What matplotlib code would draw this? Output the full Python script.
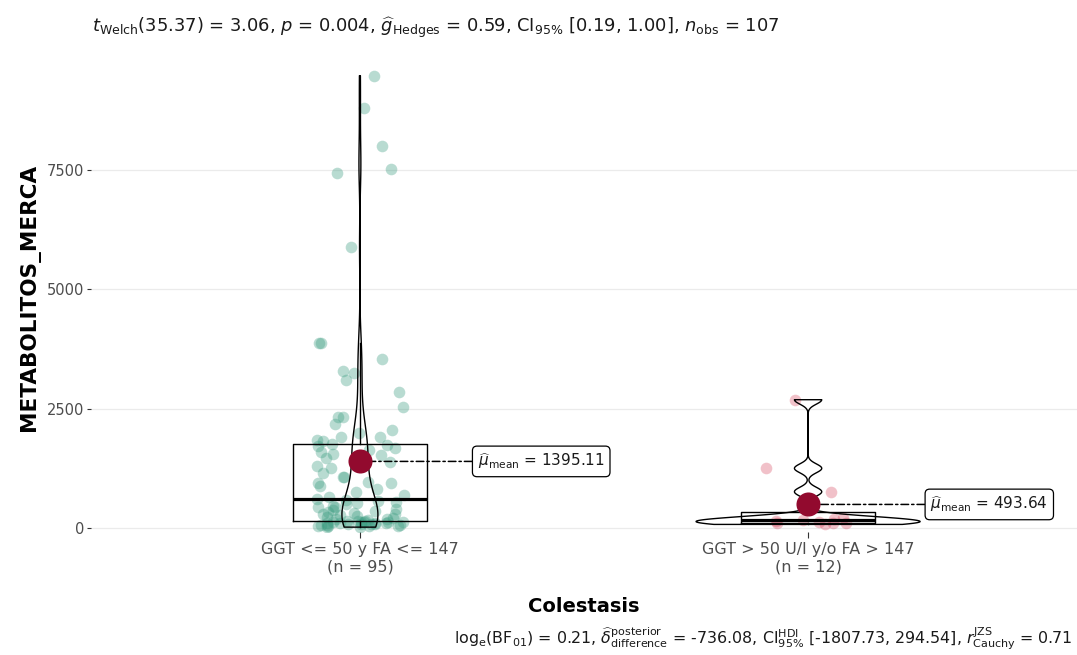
import numpy as np
import matplotlib
matplotlib.use("Agg")
import matplotlib.pyplot as plt

plt.rcParams['font.family'] = ['DejaVu Sans']
plt.rcParams['mathtext.fontset'] = 'dejavusans'

# ---------------- data ----------------
categories = ["GGT <= 50 y FA <= 147", "GGT > 50 U/l y/o FA > 147"]
x_title = "Colestasis"
y_title = "METABOLITOS_MERCA"

group1_values = [18, 25, 32, 40, 45, 52, 58, 63, 70, 75, 80, 86, 92, 97, 102, 108,
                 113, 118, 122, 126, 130, 134, 137, 141,
                 152, 165, 180, 196, 212, 230, 248, 265, 284, 302, 320, 340, 362,
                 385, 408, 430, 447, 470, 495, 520, 545, 568, 590,
                 607,
                 640, 700, 760, 820, 880, 936, 943, 970, 1064, 1075, 1146, 1250,
                 1300, 1380, 1400, 1470, 1529, 1560, 1600, 1634, 1680, 1710, 1740,
                 1760, 1829, 1850, 1900, 1900, 1980, 2050, 2179, 2319, 2319, 2529,
                 2856, 3100, 3254, 3296, 3534, 3870, 3882, 5879, 7448, 7531, 8013,
                 8808, 9477]
group2_values = [75, 98, 106, 114, 128, 145, 170, 190, 200, 759.68, 1250, 2688]

y_ticks = [0, 2500, 5000, 7500]

subtitle = (r"$t_{\mathrm{Welch}}$(35.37) = 3.06, $p$ = 0.004, "
            r"$\widehat{g}_{\mathrm{Hedges}}$ = 0.59, CI$_{95\%}$ [0.19, 1.00], "
            r"$n_{\mathrm{obs}}$ = 107")
caption = (r"$\mathrm{log}_{\mathrm{e}}(\mathrm{BF}_{01})$ = 0.21, "
           r"$\widehat{\delta}_{\mathrm{difference}}^{\mathrm{posterior}}$ = -736.08, "
           r"$\mathrm{CI}_{95\%}^{\mathrm{HDI}}$ [-1807.73, 294.54], "
           r"$r_{\mathrm{Cauchy}}^{\mathrm{JZS}}$ = 0.71")

# ---------------- styling ----------------
W, H = 1077, 655
point_colors = ["#3A9C80", "#D0213F"]
point_alphas = [0.36, 0.28]
mean_color = "#920A2E"
groups = [np.asarray(group1_values, float), np.asarray(group2_values, float)]
positions = [1, 2]

fig = plt.figure(figsize=(W / 100, H / 100), dpi=100)
pl, pr, pt, pb = 91, 1077, 48, 532
ax = fig.add_axes([pl / W, 1 - pb / H, (pr - pl) / W, (pb - pt) / H])
ax.set_xlim(0.4, 2.6)
ax.set_ylim(-84, 10057)

for s in ax.spines.values():
    s.set_visible(False)
ax.set_yticks(y_ticks)
ax.set_yticklabels([str(t) for t in y_ticks])
ax.grid(axis='y', color='#EBEBEB', lw=0.9, zorder=0)
ax.set_axisbelow(True)
ax.tick_params(axis='y', length=3, width=0.8, color='#333333', labelcolor='#4D4D4D',
               labelsize=10.5, pad=2)
ax.tick_params(axis='x', length=4, width=0.8, color='#333333', labelcolor='#4D4D4D',
               labelsize=11.5, pad=3)

# jittered points (fixed seed jitter, as ggplot's position_jitter)
rng = np.random.default_rng(11)
for g, p, c, a in zip(groups, positions, point_colors, point_alphas):
    jit = rng.uniform(-0.1, 0.1, len(g))
    ax.scatter(p + jit, g, s=70, color=c, alpha=a, lw=0, zorder=2)

# boxplots
ax.boxplot(groups, positions=positions, widths=0.3, whis=1.5, showfliers=False,
           showcaps=False, manage_ticks=False,
           boxprops=dict(color='black', lw=1.0),
           whiskerprops=dict(color='black', lw=1.0),
           medianprops=dict(color='black', lw=2.3), zorder=3)

# violins (gaussian kde, bw.nrd0, trimmed, area-scaled, width 0.5)
def kde(v, n=512):
    q75, q25 = np.percentile(v, [75, 25])
    bw = 0.9 * min(v.std(ddof=1), (q75 - q25) / 1.34) * len(v) ** -0.2
    grid = np.linspace(v.min(), v.max(), n)
    d = np.exp(-0.5 * ((grid[:, None] - v[None, :]) / bw) ** 2).sum(1) / (len(v) * bw * np.sqrt(2 * np.pi))
    return grid, d

kdes = [kde(g) for g in groups]
dmax = max(d.max() for _, d in kdes)
for (grid, d), p in zip(kdes, positions):
    hw = d / dmax * 0.25
    ax.fill_betweenx(grid, p - hw, p + hw, facecolor='none', edgecolor='black', lw=1.0, zorder=4)

# means and labels
means = [g.mean() for g in groups]
ax.scatter(positions, means, s=300, color=mean_color, zorder=6, lw=0)
label_x = [1.263, 2.273]
for p, m, lx in zip(positions, means, label_x):
    ax.annotate(r"$\widehat{\mu}_{\mathrm{mean}}$ = " + f"{m:.2f}", xy=(p, m), xytext=(lx, m),
                ha='left', va='center', fontsize=11, color='#1a1a1a', zorder=5,
                bbox=dict(boxstyle='round,pad=0.35,rounding_size=0.3', fc='white', ec='black', lw=0.9),
                arrowprops=dict(arrowstyle='-', color='black', lw=1.1, linestyle=(0, (5, 2, 1.5, 2)),
                                shrinkA=0, shrinkB=0))

ax.set_xticks(positions)
ax.set_xticklabels([f"{c}\n(n = {len(g)})" for c, g in zip(categories, groups)])

ax.set_xlabel(x_title, fontsize=14, fontweight='bold', va='center')
ax.xaxis.set_label_coords(0.5, (pb - 606) / (pb - pt))
ax.set_ylabel(y_title, fontsize=15.5, fontweight='bold', va='center')
ax.yaxis.set_label_coords((30 - pl) / (pr - pl), (pb - 297) / (pb - pt))

fig.text(92 / W, 1 - 28 / H, subtitle, ha='left', va='center', fontsize=12.9, color='#1a1a1a')
fig.text(1072 / W, 1 - 639 / H, caption, ha='right', va='center', fontsize=11.4, color='#1a1a1a')

fig.savefig("out.png", dpi=100)
